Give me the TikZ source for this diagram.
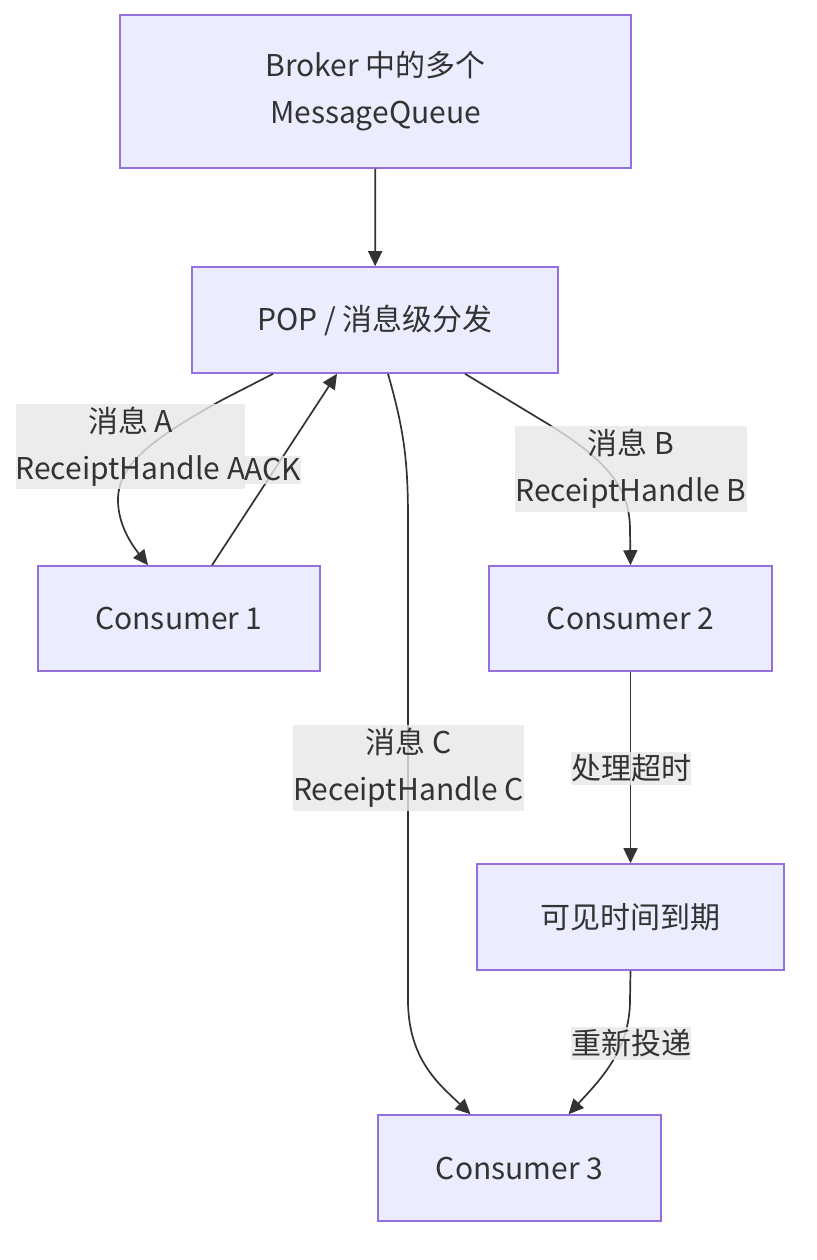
\documentclass[tikz,border=0pt]{standalone}
\usepackage{fontspec}
\setmainfont{Noto Sans CJK SC}
\usetikzlibrary{arrows.meta}
\definecolor{boxfill}{HTML}{ECECFF}
\definecolor{boxline}{HTML}{9370DB}
\definecolor{inkc}{HTML}{333333}
\definecolor{lblfill}{HTML}{E8E8E8}
\tikzset{
  qbox/.style={draw=boxline, fill=boxfill, line width=1.6pt, text=inkc,
    align=center, inner sep=0pt, font=\fontsize{30}{47}\selectfont},
  flow/.style={draw=inkc, line width=1.7pt, -{Triangle[length=15pt,width=14pt]}},
  elabel/.style={fill=lblfill, fill opacity=0.8, text opacity=1, text=inkc,
    align=center, inner xsep=0pt, inner ysep=3pt, font=\fontsize{30}{47}\selectfont}
}
\begin{document}
\begin{tikzpicture}[x=1pt,y=-1pt]
        \useasboundingbox[fill=white] (0,0) rectangle (816,1260);
        \node[qbox, minimum width=511pt, minimum height=153pt] (broker) at (375.5,91.5) {Broker 中的多个\\MessageQueue};
        \node[qbox, minimum width=366pt, minimum height=106pt] (pop) at (375,320) {POP\ / 消息级分发};
        \node[qbox, minimum width=282pt, minimum height=105pt] (cone) at (179,618.5) {Consumer 1};
        \node[qbox, minimum width=283pt, minimum height=105pt] (ctwo) at (630.5,618.5) {Consumer 2};
        \node[qbox, minimum width=307pt, minimum height=106pt] (expire) at (630.5,917) {可见时间到期};
        \node[qbox, minimum width=283pt, minimum height=106pt] (cthree) at (519.5,1168) {Consumer 3};
        \draw[flow] (broker) -- (pop);
        \draw[flow] ([xshift=-102pt]pop.south) -- (222,400) .. controls (150,440) and (118,465) .. (118,500)
          .. controls (118,525) and (132,545) .. ([xshift=-31pt]cone.north);
        \draw[flow] ([xshift=33pt]cone.north) -- ([xshift=-38pt]pop.south);
        \draw[flow] ([xshift=90pt]pop.south) -- (548,424) .. controls (610,462) and (630,490) .. (630,530) -- (ctwo.north);
        \draw[flow] ([xshift=13pt]pop.south) .. controls (404,430) and (408,460) .. (408,520) -- (408,1000)
          .. controls (408,1060) and (440,1085) .. ([xshift=-49pt]cthree.north);
        \draw[flow] (ctwo) -- (expire);
        \draw[flow] (expire.south) -- (630,1000) .. controls (630,1050) and (600,1080) .. ([xshift=49pt]cthree.north);
        \node[elabel] (lbla) at (130.5,446.5) {消息 A\\ReceiptHandle A};
        \node[elabel] (lblack) at (272.5,470) {ACK};
        \node[elabel] (lblb) at (631,469) {消息 B\\ReceiptHandle B};
        \node[elabel] (lblc) at (408.5,768) {消息 C\\ReceiptHandle C};
        \node[elabel] (lbltimeout) at (631,768.5) {处理超时};
        \node[elabel] (lblredeliver) at (631,1043.5) {重新投递};
      \end{tikzpicture}
\end{document}
